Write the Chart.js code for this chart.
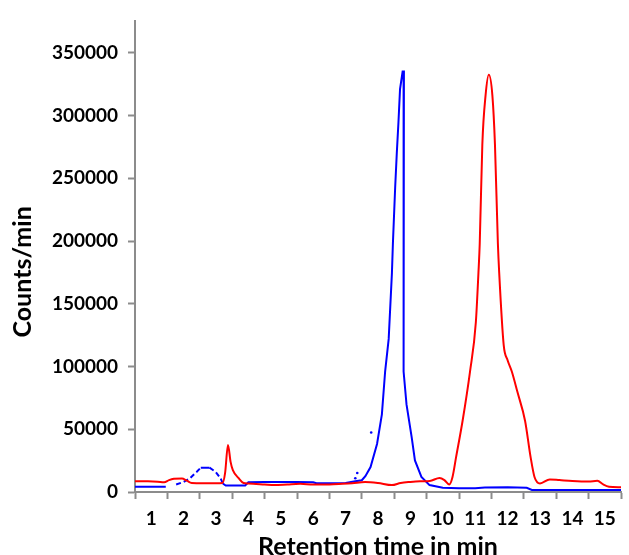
<!DOCTYPE html>
<html>
<head>
<meta charset="utf-8">
<script src="https://cdn.jsdelivr.net/npm/chart.js@4/dist/chart.umd.min.js"></script>
<style>
html,body{margin:0;padding:0;background:#fff;}
#wrap{width:629px;height:555px;position:relative;}
</style>
</head>
<body>
<div id="wrap"><canvas id="c" width="629" height="555"></canvas></div>
<script>
// ---- data ----
const xTickLabels = [1,2,3,4,5,6,7,8,9,10,11,12,13,14,15];
const yTickValues = [0,50000,100000,150000,200000,250000,300000,350000];

const redTime = [0.5,0.9,1.2,1.4,1.55,1.7,1.95,2.1,2.25,2.6,3.0,3.2,3.28,3.37,3.45,3.52,3.7,3.85,4.0,4.5,4.8,5.2,5.6,6.0,6.5,6.9,7.2,7.6,8.0,8.43,8.7,9.0,9.3,9.6,9.9,10.05,10.2,10.3,10.41,10.61,10.84,11.02,11.1,11.14,11.22,11.32,11.42,11.53,11.61,11.7,11.74,11.88,12.0,12.13,12.3,12.54,12.71,12.83,13.0,13.3,13.6,14.0,14.5,14.77,14.95,15.13,15.5];
const redCounts = [8500,8500,8200,7800,9500,10500,10800,9000,7200,7000,7000,7200,15000,37500,24000,17500,11000,7200,6800,6000,5500,6000,6500,6000,6000,6500,7000,8000,7200,5500,7200,8000,8500,8800,11200,9500,6000,12000,27800,56600,96000,135300,174600,198000,276800,316000,332400,316000,276800,198000,175000,117000,105000,96000,80000,56600,27800,12000,6800,10000,9500,8800,8400,8900,6000,4200,3800];

const blueTime = [0.5,1.45,1.6,1.77,2.0,2.2,2.4,2.53,2.8,2.99,3.14,3.21,3.3,3.9,4.0,4.5,5.0,5.5,6.0,6.1,6.5,7.0,7.3,7.5,7.61,7.77,7.97,8.12,8.22,8.33,8.43,8.46,8.53,8.58,8.63,8.68,8.76,8.8,8.79,8.78,8.8,8.88,9.04,9.14,9.34,9.59,10.0,10.5,11.0,11.3,12.0,12.59,12.75,13.5,15.5];
const blueCounts = [4200,4200,null,6000,8000,11000,16000,19400,19400,16000,11000,6800,5200,5200,7800,8000,8000,8000,7800,7000,7000,7200,8500,9400,12600,19900,38300,61900,96000,122000,174600,198000,242800,270000,293900,321000,335000,335000,200000,135000,96000,69800,43500,25200,12000,5500,3400,3000,2900,3500,3800,3300,1600,1500,1500];

const blueDotTime = [7.3,7.36,7.79];
const blueDotCounts = [11000,15200,47400];

// ---- styling ----
const AXIS = '#8c8c8c';
const FONT = 'Lato';

const toXY = (xs, ys) => xs.map((x, i) => ({x: x, y: ys[i]}));

const xTickPositions = [0.5];
xTickLabels.forEach(v => { xTickPositions.push(v); xTickPositions.push(v + 0.5); });

new Chart(document.getElementById('c'), {
  type: 'line',
  data: {
    datasets: [
      {
        label: 'red',
        data: toXY(redTime, redCounts),
        borderColor: '#ff0000',
        borderWidth: 2,
        pointRadius: 0,
        cubicInterpolationMode: 'monotone',
        fill: false
      },
      {
        label: 'blue',
        data: toXY(blueTime, blueCounts),
        borderColor: '#0000ff',
        borderWidth: 2,
        pointRadius: 0,
        tension: 0,
        spanGaps: false,
        fill: false,
        segment: {
          borderDash: ctx => {
            const x0 = ctx.p0.parsed.x;
            return ((x0 >= 1.7 && x0 < 2.5) || (x0 >= 2.8 && x0 < 3.2)) ? [5, 3] : undefined;
          }
        }
      },
      {
        label: 'blue dots',
        data: toXY(blueDotTime, blueDotCounts),
        showLine: false,
        pointRadius: 1.3,
        pointBackgroundColor: '#0000ff',
        pointBorderWidth: 0
      }
    ]
  },
  options: {
    responsive: false,
    animation: false,
    layout: { padding: { top: 15, right: 2, left: 0, bottom: 0 } },
    plugins: { legend: { display: false }, tooltip: { enabled: false } },
    scales: {
      x: {
        type: 'linear',
        min: 0.5,
        max: 15.5,
        afterBuildTicks: s => { s.ticks = xTickPositions.map(v => ({value: v})); },
        afterFit: s => { s.height = 63; },
        border: { color: AXIS, width: 2 },
        grid: {
          drawOnChartArea: false,
          drawTicks: true,
          tickLength: 7,
          tickWidth: 2,
          color: AXIS,
          tickColor: c => (Number.isInteger(c.tick && c.tick.value) ? 'rgba(0,0,0,0)' : AXIS)
        },
        ticks: {
          autoSkip: false,
          maxRotation: 0,
          minRotation: 0,
          padding: 8,
          color: '#000',
          font: { family: FONT, weight: 'bold', size: 19 },
          callback: v => (Number.isInteger(v) ? String(v) : '')
        },
        title: {
          display: true,
          text: 'Retention time in min',
          color: '#000',
          font: { family: FONT, weight: 'bold', size: 25, lineHeight: 0.65 },
          padding: 0
        }
      },
      y: {
        type: 'linear',
        min: 0,
        max: 375000,
        afterBuildTicks: s => { s.ticks = yTickValues.map(v => ({value: v})); },
        afterFit: s => { s.width = 135; },
        border: { color: AXIS, width: 2 },
        grid: {
          drawOnChartArea: false,
          drawTicks: true,
          tickLength: 7,
          tickWidth: 2,
          color: AXIS,
          tickColor: AXIS
        },
        ticks: {
          padding: 10,
          color: '#000',
          font: { family: FONT, weight: 'bold', size: 19 },
          callback: v => String(v)
        },
        title: {
          display: true,
          text: 'Counts/min     ',
          color: '#000',
          font: { family: FONT, weight: 'bold', size: 25 },
          padding: { top: 8, bottom: 0 }
        }
      }
    }
  }
});
</script>
</body>
</html>
